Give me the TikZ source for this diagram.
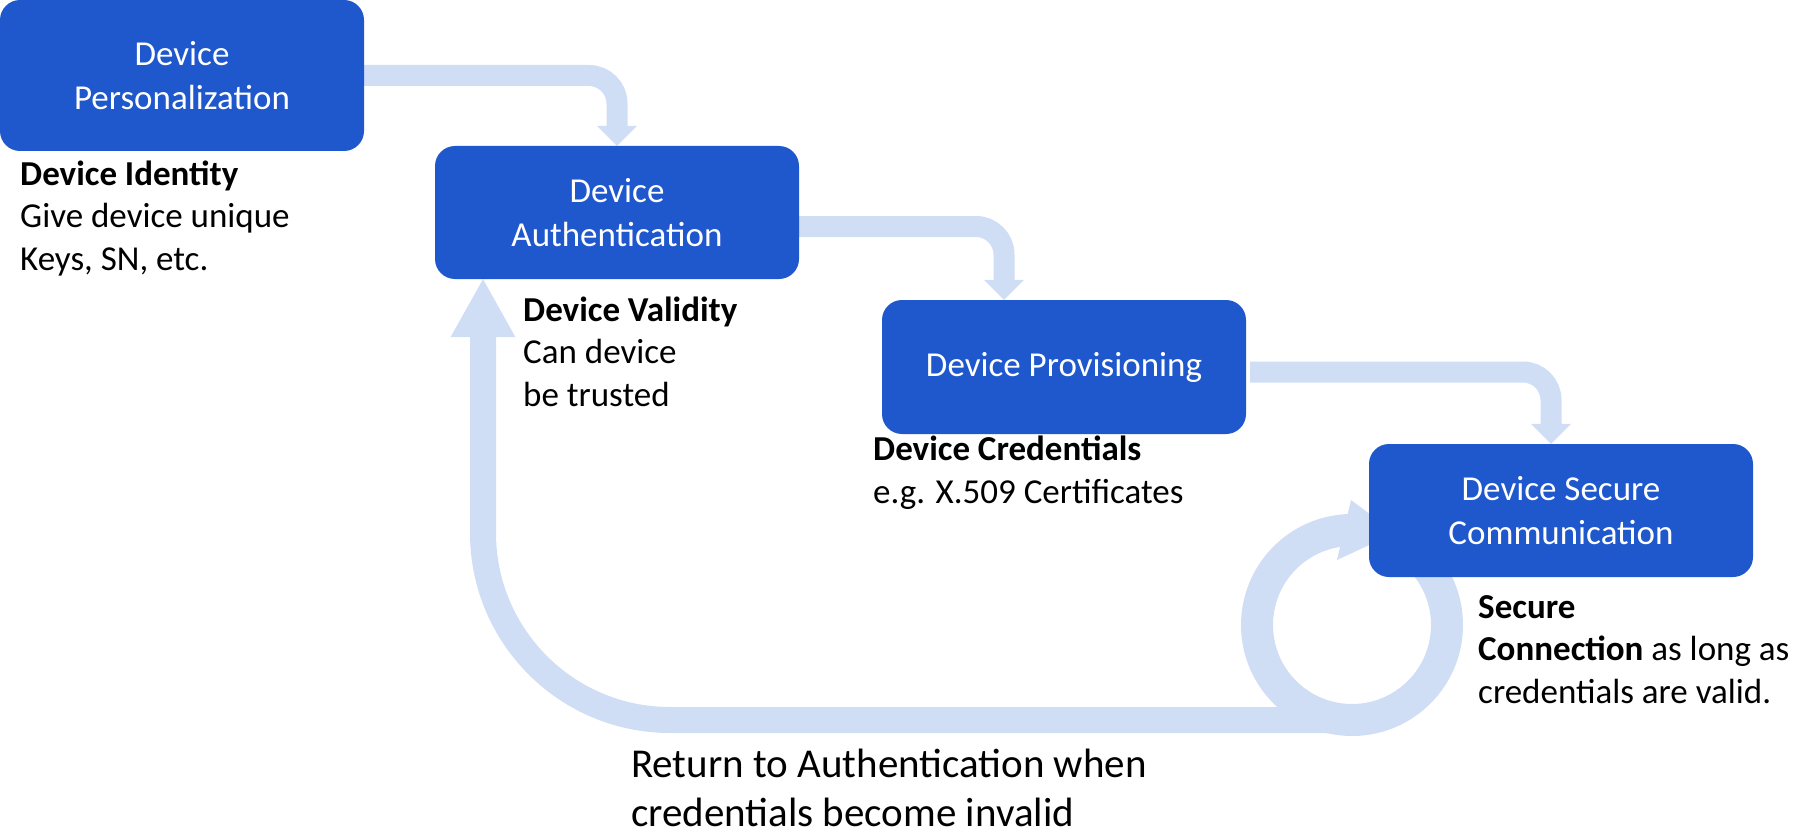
\documentclass[tikz,border=0pt]{standalone}
\usepackage{fontspec}
\setmainfont{Carlito}
\usetikzlibrary{arrows.meta,backgrounds}
\definecolor{boxblue}{RGB}{31,87,204}
\definecolor{flowc}{RGB}{207,221,245}
\begin{document}
\begin{tikzpicture}[x=1pt,y=1pt,
  stage/.style={draw=none, fill=boxblue, rounded corners=20pt, text=white, align=center, inner sep=0pt, font=\fontsize{35}{44}\selectfont},
  lbl/.style={align=left, inner sep=0pt, anchor=base west, font=\fontsize{35}{42.5}\selectfont},
  flow/.style={draw=flowc, line width=21pt, rounded corners=28pt, -{Triangle[width=40pt 0 0,length=20pt 0 0,line width=0pt 0 0]}},
  back/.style={draw=flowc, line width=26pt, rounded corners=187pt, -{Triangle[width=65pt 0 0,length=58pt 0 0,line width=0pt 0 0]}},
  ring/.style={draw=flowc, line width=32pt},
]
\useasboundingbox (0,0) rectangle (1794,-832);
\node[stage, minimum width=364pt, minimum height=151pt] (pers) at (182,-75.5) {Device\\Personalization};
\node[stage, minimum width=364pt, minimum height=133pt] (auth) at (617,-212.5) {Device\\Authentication};
\node[stage, minimum width=364pt, minimum height=134pt] (prov) at (1064,-367) {Device Provisioning};
\node[stage, minimum width=384pt, minimum height=133pt] (secc) at (1561,-510.5) {Device Secure\\Communication};

\node[lbl] (idl) at (20,-270) {\textbf{Device Identity}\\Give device unique\\Keys, SN, etc.};
\node[lbl] (val) at (523,-406) {\textbf{Device Validity}\\Can device\\be trusted};
\node[lbl] (cred) at (873,-503) {\textbf{Device Credentials}\\e.g. X.509 Certificates};
\node[lbl] (conn) at (1478,-703) {\textbf{Secure}\\\textbf{Connection} as long as\\credentials are valid.};
\node[lbl, font=\fontsize{41}{49}\selectfont] (ret) at (631,-826) {Return to Authentication when\\credentials become invalid};

\coordinate (loopc) at (1352,-625);
\coordinate (ringbottom) at (1352,-720);

\begin{scope}[on background layer]
\draw[flow] (pers.east) -| (auth.north);
\draw[flow] ([yshift=-14pt]auth.east) -| ([xshift=-60pt]prov.north);
\draw[flow] ([xshift=4pt,yshift=-5pt]prov.east) -| ([xshift=-10pt]secc.north);
\draw[ring] ([shift={(88:95)}]loopc) arc[start angle=88, end angle=420, radius=95];
\fill[flowc] ([shift={(-1,125)}]loopc) -- ([shift={(43,92)}]loopc) -- ([shift={(-15,65)}]loopc) -- cycle;
\draw[back] (ringbottom) -| ([xshift=-134pt]auth.south);
\end{scope}
\end{tikzpicture}
\end{document}
